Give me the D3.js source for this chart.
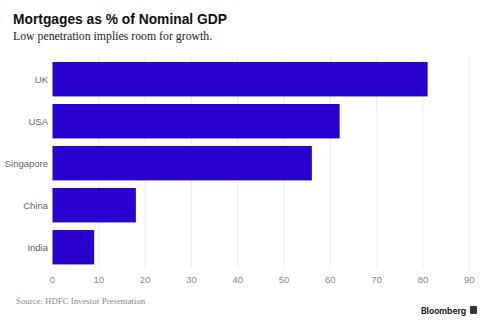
<!DOCTYPE html>
<html lang="en">
<head>
    <meta charset="UTF-8">
    <title>Mortgages as % of Nominal GDP</title>
    <style>
        body { margin: 0; background: #fff; }
        svg { display: block; }
    </style>
    <script src="https://d3js.org/d3.v7.min.js"></script>
</head>
<body>
    <div id="chart"></div>
    <script>
        var countries = ['UK', 'USA', 'Singapore', 'China', 'India'];
        var mortgageShare = [81, 62, 56, 18, 9];
        var xTicks = [0, 10, 20, 30, 40, 50, 60, 70, 80, 90];

        var width = 488, height = 325;
        var svg = d3.select('#chart').append('svg')
            .attr('width', width)
            .attr('height', height);

        // title block
        svg.append('text')
            .attr('x', 13).attr('y', 24)
            .attr('font-family', '"Liberation Sans", Arial, sans-serif')
            .attr('font-weight', 700)
            .attr('font-size', 13.8)
            .attr('fill', '#111')
            .text('Mortgages as % of Nominal GDP');

        svg.append('text')
            .attr('x', 13).attr('y', 40)
            .attr('font-family', '"Liberation Serif", "DejaVu Serif", serif')
            .attr('font-size', 11.8)
            .attr('fill', '#222')
            .text('Low penetration implies room for growth.');

        var x = d3.scaleLinear().domain([0, 90]).range([52.5, 469.3]);
        var y = d3.scaleBand()
            .domain(countries)
            .range([58.2, 268.2])
            .paddingInner(0.18)
            .paddingOuter(0.09);

        // gridlines
        svg.append('g').selectAll('line')
            .data(xTicks.slice(1))
            .enter().append('line')
            .attr('x1', d => x(d)).attr('x2', d => x(d))
            .attr('y1', 56).attr('y2', 269)
            .attr('stroke', '#ececec')
            .attr('stroke-width', 1);

        svg.append('g').selectAll('rect')
            .data(mortgageShare)
            .enter().append('rect')
            .attr('x', x(0))
            .attr('y', (d, i) => y(countries[i]))
            .attr('width', d => x(d) - x(0))
            .attr('height', y.bandwidth())
            .attr('fill', '#2a00d0');

        // category labels
        svg.append('g').selectAll('text')
            .data(countries)
            .enter().append('text')
            .attr('x', 48)
            .attr('y', d => y(d) + y.bandwidth() / 2)
            .attr('dy', '0.35em')
            .attr('text-anchor', 'end')
            .attr('font-family', '"Liberation Sans", Arial, sans-serif')
            .attr('font-size', 9.5)
            .attr('fill', '#666')
            .text(d => d);

        // x tick labels
        svg.append('g').selectAll('text')
            .data(xTicks)
            .enter().append('text')
            .attr('x', d => x(d))
            .attr('y', 283)
            .attr('text-anchor', 'middle')
            .attr('font-family', '"Liberation Sans", Arial, sans-serif')
            .attr('font-size', 9.5)
            .attr('fill', '#888')
            .text(d => d);

        svg.append('text')
            .attr('x', 16).attr('y', 304)
            .attr('font-family', '"Liberation Serif", "DejaVu Serif", serif')
            .attr('font-size', 8.8)
            .attr('fill', '#888')
            .text('Source: HDFC Investor Presentation');

        // logo
        svg.append('text')
            .attr('x', 421).attr('y', 314)
            .attr('font-family', 'Inter, "Liberation Sans", sans-serif')
            .attr('font-weight', 700)
            .attr('font-size', 8.5)
            .attr('fill', '#222')
            .text('Bloomberg');
        svg.append('rect')
            .attr('x', 470).attr('y', 306)
            .attr('width', 7).attr('height', 8)
            .attr('rx', 1)
            .attr('fill', '#333');
    </script>
</body>
</html>
